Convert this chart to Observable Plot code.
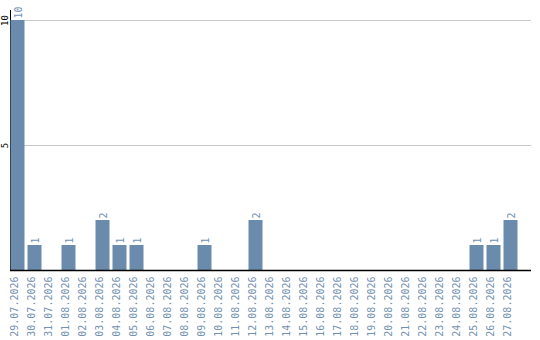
<!DOCTYPE html>
<html>
<head>
<meta charset="utf-8">
<script src="https://cdn.jsdelivr.net/npm/d3@7"></script>
<script src="https://cdn.jsdelivr.net/npm/@observablehq/plot@0.6"></script>
<style>
  html, body { margin: 0; padding: 0; background: #fff; }
  #chart svg { display: block; }
</style>
</head>
<body>
<div id="chart"></div>
<script>
// Daily counts, 29.07.2026 – 27.08.2026
const days = [
  "29.07.2026", "30.07.2026", "31.07.2026", "01.08.2026", "02.08.2026",
  "03.08.2026", "04.08.2026", "05.08.2026", "06.08.2026", "07.08.2026",
  "08.08.2026", "09.08.2026", "10.08.2026", "11.08.2026", "12.08.2026",
  "13.08.2026", "14.08.2026", "15.08.2026", "16.08.2026", "17.08.2026",
  "18.08.2026", "19.08.2026", "20.08.2026", "21.08.2026", "22.08.2026",
  "23.08.2026", "24.08.2026", "25.08.2026", "26.08.2026", "27.08.2026"
];
const counts = [
  10, 1, 0, 1, 0,
  2, 1, 1, 0, 0,
  0, 1, 0, 0, 2,
  0, 0, 0, 0, 0,
  0, 0, 0, 0, 0,
  0, 0, 1, 1, 2
];
const yTicks = [5, 10];

const rows = days.map((day, i) => ({day, count: counts[i]}));

const barColor = "#6a8bab";
const labelColor = "#7391b0";
const mono = "DejaVu Sans Mono, monospace";

const chart = Plot.plot({
  width: 540,
  height: 340,
  marginTop: 10,
  marginBottom: 70,
  marginLeft: 10,
  marginRight: 9,
  style: {background: "#fff", fontFamily: mono},
  x: {type: "band", domain: days, range: [8.5, 518.5], padding: 0, axis: null},
  y: {domain: [0, 10.4], axis: null},
  marks: [
    // horizontal grid lines
    Plot.ruleY(yTicks, {stroke: "#c8c8c8", strokeWidth: 1}),
    // left axis line
    Plot.frame({anchor: "left", stroke: "#000", strokeWidth: 1}),
    Plot.barY(rows, {x: "day", y: "count", fill: barColor, insetLeft: 1.5, insetRight: 1.5}),
    // baseline
    Plot.ruleY([0], {stroke: "#000", strokeWidth: 1.5}),
    // y tick labels
    Plot.text(yTicks, {
      y: d => d, text: d => String(d), frameAnchor: "left", dx: -5,
      rotate: -90, textAnchor: "middle", fill: "#000", fontSize: 9, fontFamily: mono
    }),
    // value labels above bars
    Plot.text(rows.filter(r => r.count > 0), {
      x: "day", y: "count", text: d => String(d.count), dx: 1, dy: -2,
      rotate: -90, textAnchor: "start", fill: labelColor, fontSize: 10, fontFamily: mono
    }),
    // category labels
    Plot.text(rows, {
      x: "day", text: "day", frameAnchor: "bottom", dy: 6,
      rotate: -90, textAnchor: "end", fill: labelColor, fontSize: 10, fontFamily: mono
    })
  ]
});

document.getElementById("chart").append(chart);
</script>
</body>
</html>
